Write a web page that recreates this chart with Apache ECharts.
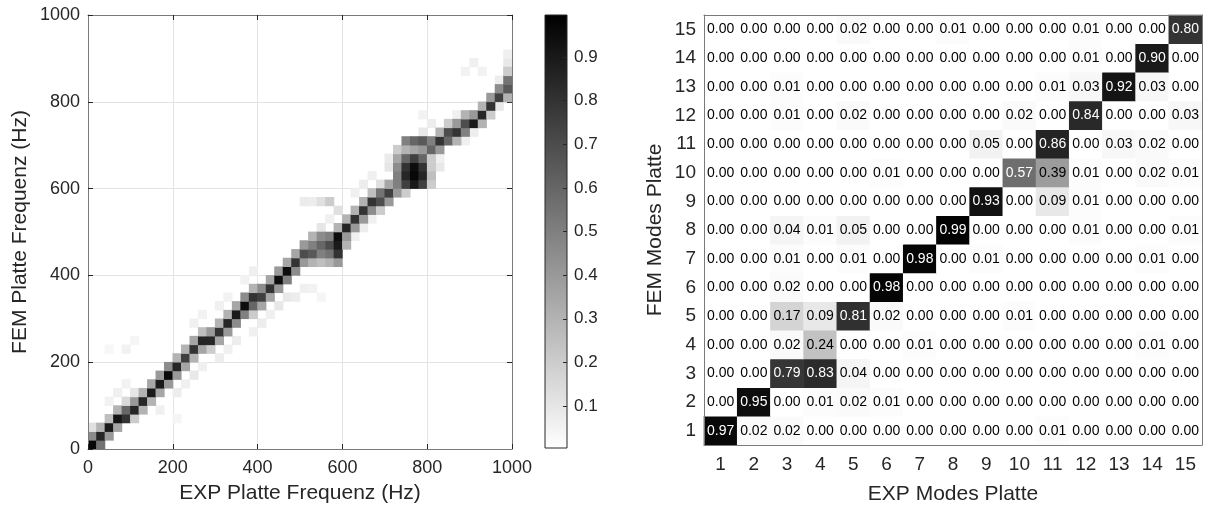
<!DOCTYPE html>
<html>
<head>
<meta charset="utf-8">
<script src="https://cdn.jsdelivr.net/npm/echarts@6/dist/echarts.min.js"></script>
<style>
html,body{margin:0;padding:0;background:#fff;}
#chart{width:1205px;height:512px;}
</style>
</head>
<body>
<div id="chart"></div>
<script>
// ---------- DATA ----------
// Left panel: frequency-correlation map, 20 Hz bins.
// bandColumns: [expBinIndex, femStartBinIndex, [values for consecutive FEM bins]]
const binHz = 20;
const bandColumns = [
  [0,0,[0.97,0.45,0.12]],
  [1,0,[0.55,0.85,0.3]],
  [2,1,[0.4,0.9,0.25]],
  [3,2,[0.35,0.92,0.3]],
  [4,3,[0.8,0.6,0.15]],
  [5,3,[0.2,0.85,0.4,0.1]],
  [6,4,[0.3,0.85,0.3]],
  [7,5,[0.3,0.9,0.35]],
  [8,6,[0.35,0.9,0.4]],
  [9,7,[0.4,0.97,0.45]],
  [10,8,[0.4,0.85,0.3]],
  [11,9,[0.35,0.75,0.3]],
  [12,10,[0.3,0.8,0.35]],
  [13,11,[0.35,0.85,0.25]],
  [14,11,[0.2,0.85,0.4]],
  [15,12,[0.35,0.8,0.3]],
  [16,13,[0.4,0.85,0.3]],
  [17,14,[0.45,0.9,0.35]],
  [18,15,[0.5,0.95,0.45]],
  [19,15,[0.2,0.6,0.8,0.3]],
  [20,16,[0.35,0.75,0.45]],
  [21,17,[0.35,0.8,0.35]],
  [22,18,[0.4,0.95,0.4]],
  [23,19,[0.5,0.95,0.35]],
  [24,20,[0.45,0.8,0.35]],
  [25,21,[0.4,0.7,0.4]],
  [26,21,[0.3,0.65,0.5,0.3]],
  [27,21,[0.25,0.5,0.6,0.45]],
  [28,21,[0.3,0.55,0.7,0.5]],
  [29,21,[0.4,0.8,0.9,0.95,0.3]],
  [30,23,[0.3,0.4,0.85,0.3]],
  [31,25,[0.4,0.8,0.3]],
  [32,26,[0.4,0.8,0.3]],
  [33,27,[0.45,0.8,0.25]],
  [34,27,[0.2,0.7,0.55]],
  [35,28,[0.4,0.75,0.35]],
  [36,29,[0.4,0.5,0.5,0.45,0.35,0.2]],
  [37,29,[0.2,0.75,0.85,0.8,0.6,0.3,0.5]],
  [38,30,[0.9,0.97,0.95,0.75,0.35,0.6]],
  [39,30,[0.75,0.85,0.8,0.6,0.4,0.65]],
  [40,30,[0.2,0.25,0.2,0.2,0.6,0.5]],
  [41,34,[0.4,0.8,0.3]],
  [42,35,[0.6,0.7,0.2]],
  [43,35,[0.3,0.8,0.4]],
  [44,36,[0.5,0.7,0.3]],
  [45,37,[0.9,0.4]],
  [46,37,[0.3,0.85,0.3]],
  [47,38,[0.2,0.8,0.4]],
  [48,40,[0.75,0.45]],
  [49,40,[0.3,0.65,0.55,0.2]]
];
// faint off-band cells: [expHz, femHz, value]
const faintCells = [
  [40,100,0.05],[60,120,0.06],[80,140,0.05],[40,220,0.03],[80,220,0.05],[100,240,0.04],
  [160,80,0.06],[200,120,0.07],[220,140,0.06],[240,160,0.09],[260,180,0.06],[200,60,0.04],
  [300,200,0.07],[320,220,0.06],[340,240,0.07],[380,260,0.06],[400,280,0.07],[420,300,0.06],[440,320,0.09],
  [240,280,0.06],[260,300,0.05],[300,320,0.06],[320,340,0.05],[360,380,0.05],[380,400,0.06],
  [460,340,0.09],[480,340,0.07],[500,360,0.06],[520,360,0.05],[540,340,0.04],
  [500,460,0.2],[520,480,0.15],[540,500,0.1],[500,560,0.08],[520,560,0.07],[540,560,0.12],[560,560,0.2],[580,540,0.12],[560,520,0.06],
  [600,460,0.06],[620,480,0.06],[640,500,0.07],[660,520,0.06],[680,540,0.06],
  [620,580,0.06],[640,600,0.07],[660,620,0.06],[700,640,0.1],[700,660,0.08],[680,600,0.12],
  [780,720,0.09],[800,740,0.07],[780,760,0.05],[820,640,0.09],[820,660,0.06],
  [860,760,0.06],[880,700,0.06],[900,720,0.07],[920,740,0.06],[940,760,0.07],[960,780,0.09],
  [880,860,0.05],[900,880,0.06],[920,860,0.05],[980,880,0.09],[980,860,0.12],[960,840,0.07],[980,900,0.06]
];
const freqTicks = [0,200,400,600,800,1000];
const colorbarTicks = [0.1,0.2,0.3,0.4,0.5,0.6,0.7,0.8,0.9];
const colorbarRange = [0.004, 0.996];

// Right panel: MAC matrix. macRows[k] = FEM mode k+1, values for EXP modes 1..15
const modeLabels = ['1','2','3','4','5','6','7','8','9','10','11','12','13','14','15'];
const macRows = [
  [0.97,0.02,0.02,0.00,0.00,0.00,0.00,0.00,0.00,0.00,0.01,0.00,0.00,0.00,0.00],
  [0.00,0.95,0.00,0.01,0.02,0.01,0.00,0.00,0.00,0.00,0.00,0.00,0.00,0.00,0.00],
  [0.00,0.00,0.79,0.83,0.04,0.00,0.00,0.00,0.00,0.00,0.00,0.00,0.00,0.00,0.00],
  [0.00,0.00,0.02,0.24,0.00,0.00,0.01,0.00,0.00,0.00,0.00,0.00,0.00,0.01,0.00],
  [0.00,0.00,0.17,0.09,0.81,0.02,0.00,0.00,0.00,0.01,0.00,0.00,0.00,0.00,0.00],
  [0.00,0.00,0.02,0.00,0.00,0.98,0.00,0.00,0.00,0.00,0.00,0.00,0.00,0.00,0.00],
  [0.00,0.00,0.01,0.00,0.01,0.00,0.98,0.00,0.01,0.00,0.00,0.00,0.00,0.01,0.00],
  [0.00,0.00,0.04,0.01,0.05,0.00,0.00,0.99,0.00,0.00,0.00,0.01,0.00,0.00,0.01],
  [0.00,0.00,0.00,0.00,0.00,0.00,0.00,0.00,0.93,0.00,0.09,0.01,0.00,0.00,0.00],
  [0.00,0.00,0.00,0.00,0.00,0.01,0.00,0.00,0.00,0.57,0.39,0.01,0.00,0.02,0.01],
  [0.00,0.00,0.00,0.00,0.00,0.00,0.00,0.00,0.05,0.00,0.86,0.00,0.03,0.02,0.00],
  [0.00,0.00,0.01,0.00,0.02,0.00,0.00,0.00,0.00,0.02,0.00,0.84,0.00,0.00,0.03],
  [0.00,0.00,0.01,0.00,0.00,0.00,0.00,0.00,0.00,0.00,0.01,0.03,0.92,0.03,0.00],
  [0.00,0.00,0.00,0.00,0.00,0.00,0.00,0.00,0.00,0.00,0.00,0.01,0.00,0.90,0.00],
  [0.00,0.00,0.00,0.00,0.02,0.00,0.00,0.01,0.00,0.00,0.00,0.01,0.00,0.00,0.80]
];

// ---------- BUILD ----------
const FONT = "'Liberation Sans', Arial, Helvetica, sans-serif";
const TXT = '#262626';
const LINE = '#7a7a7a';
const GRIDC = '#e3e3e3';

const freqData = [];
faintCells.forEach(c => freqData.push([c[0], c[1], c[2]]));
bandColumns.forEach(col => {
  col[2].forEach((v, k) => freqData.push([col[0]*binHz, (col[1]+k)*binHz, v]));
});

const macData = [];
macRows.forEach((row, yi) => row.forEach((v, xi) => {
  macData.push({value:[xi, yi, v], label:{color: v > 0.5 ? '#ffffff' : '#000000'}});
}));

const chart = echarts.init(document.getElementById('chart'), null, {renderer:'canvas'});

const lab = (size, margin) => ({fontSize: size, margin: margin, fontFamily: FONT, color: TXT});
const plainNum = v => String(v);
const freqMin = freqTicks[0], freqMax = freqTicks[freqTicks.length - 1];
const freqStep = freqTicks[1] - freqTicks[0];
const boxLine = {show: true, onZero: false, lineStyle: {color: LINE}};
const inTick = {show: true, inside: true, length: 5, lineStyle: {color: TXT}};

chart.setOption({
  animation: false,
  backgroundColor: '#ffffff',
  textStyle: {fontFamily: FONT},
  visualMap: [{
    show: false, type: 'continuous', min: 0, max: 1, dimension: 2,
    seriesIndex: [0, 2], inRange: {color: ['#ffffff', '#000000']}
  }],
  grid: [
    {left: 88, top: 15, width: 424, height: 434},
    {left: 545, top: 15, width: 22, height: 433},
    {left: 704, top: 15, width: 498, height: 430}
  ],
  xAxis: [
    // 0: bottom axis of freq map (labels, ticks) drawn over the image
    {gridIndex: 0, type: 'value', min: freqMin, max: freqMax, interval: freqStep, position: 'bottom', z: 10,
     name: 'EXP Platte Frequenz (Hz)', nameLocation: 'middle', nameGap: 34,
     nameTextStyle: {fontSize: 21, color: TXT, fontFamily: FONT},
     axisLine: boxLine, axisTick: inTick,
     axisLabel: Object.assign(lab(18, 10), {formatter: plainNum}),
     splitLine: {show: false}},
    // 1: top axis of freq map, carries the grid lines (under the image)
    {gridIndex: 0, type: 'value', min: freqMin, max: freqMax, interval: freqStep, position: 'top',
     axisLine: boxLine, axisTick: inTick,
     axisLabel: {show: false}, splitLine: {show: true, lineStyle: {color: GRIDC}}},
    // 2: colorbar x
    {gridIndex: 1, type: 'value', min: 0, max: 1, show: false, axisLine: {onZero: false}},
    // 3: MAC bottom
    {gridIndex: 2, type: 'category', data: modeLabels, position: 'bottom', z: 10,
     name: 'EXP Modes Platte', nameLocation: 'middle', nameGap: 39,
     nameTextStyle: {fontSize: 21, color: TXT, fontFamily: FONT},
     axisLine: boxLine, axisTick: {show: false},
     axisLabel: lab(19, 10), splitLine: {show: false}},
    // 4: MAC top border
    {gridIndex: 2, type: 'category', data: modeLabels, position: 'top', z: 10,
     axisLine: boxLine, axisTick: {show: false}, axisLabel: {show: false}, splitLine: {show: false}}
  ],
  yAxis: [
    {gridIndex: 0, type: 'value', min: freqMin, max: freqMax, interval: freqStep, position: 'left', z: 10,
     name: 'FEM Platte Frequenz (Hz)', nameLocation: 'middle', nameGap: 57,
     nameTextStyle: {fontSize: 21, color: TXT, fontFamily: FONT},
     axisLine: boxLine, axisTick: inTick,
     axisLabel: Object.assign(lab(18, 8), {formatter: plainNum}),
     splitLine: {show: false}},
    {gridIndex: 0, type: 'value', min: freqMin, max: freqMax, interval: freqStep, position: 'right',
     axisLine: boxLine, axisTick: inTick,
     axisLabel: {show: false}, splitLine: {show: true, lineStyle: {color: GRIDC}}},
    {gridIndex: 1, type: 'value', min: colorbarRange[0], max: colorbarRange[1], position: 'right', z: 10,
     axisLine: {show: false, onZero: false},
     axisTick: {show: true, inside: true, length: 4, customValues: colorbarTicks, lineStyle: {color: TXT}},
     axisLabel: Object.assign(lab(17, 7), {customValues: colorbarTicks,
       formatter: v => Number(v).toFixed(1)}),
     splitLine: {show: false}},
    {gridIndex: 2, type: 'category', data: modeLabels, position: 'left', z: 10,
     name: 'FEM Modes Platte', nameLocation: 'middle', nameGap: 38,
     nameTextStyle: {fontSize: 21, color: TXT, fontFamily: FONT},
     axisLine: boxLine, axisTick: {show: false},
     axisLabel: lab(19, 8), splitLine: {show: false}},
    {gridIndex: 2, type: 'category', data: modeLabels, position: 'right', z: 10,
     axisLine: boxLine, axisTick: {show: false}, axisLabel: {show: false}, splitLine: {show: false}}
  ],
  series: [
    {
      type: 'custom', name: 'freq', xAxisIndex: 0, yAxisIndex: 0, clip: true,
      data: freqData,
      renderItem: function (params, api) {
        const x = api.value(0), y = api.value(1);
        const p0 = api.coord([x, y + binHz]);
        const p1 = api.coord([x + binHz, y]);
        return {
          type: 'rect',
          shape: {x: p0[0] - 0.3, y: p0[1] - 0.3, width: p1[0] - p0[0] + 0.6, height: p1[1] - p0[1] + 0.6},
          style: {fill: api.visual('color')}
        };
      }
    },
    {
      type: 'custom', name: 'colorbar', xAxisIndex: 2, yAxisIndex: 2,
      data: [[0, colorbarRange[0], 1, colorbarRange[1]]],
      renderItem: function (params, api) {
        const p0 = api.coord([api.value(0), api.value(3)]);
        const p1 = api.coord([api.value(2), api.value(1)]);
        return {
          type: 'rect',
          shape: {x: p0[0], y: p0[1], width: p1[0] - p0[0], height: p1[1] - p0[1]},
          style: {
            fill: {type: 'linear', x: 0, y: 0, x2: 0, y2: 1,
              colorStops: [{offset: 0, color: '#000000'}, {offset: 1, color: '#ffffff'}]},
            stroke: TXT, lineWidth: 1
          }
        };
      }
    },
    {
      type: 'heatmap', name: 'MAC', xAxisIndex: 3, yAxisIndex: 3,
      data: macData,
      label: {show: true, fontSize: 14, fontFamily: FONT,
        formatter: p => p.value[2].toFixed(2)},
      emphasis: {disabled: true}
    }
  ]
});
</script>
</body>
</html>
